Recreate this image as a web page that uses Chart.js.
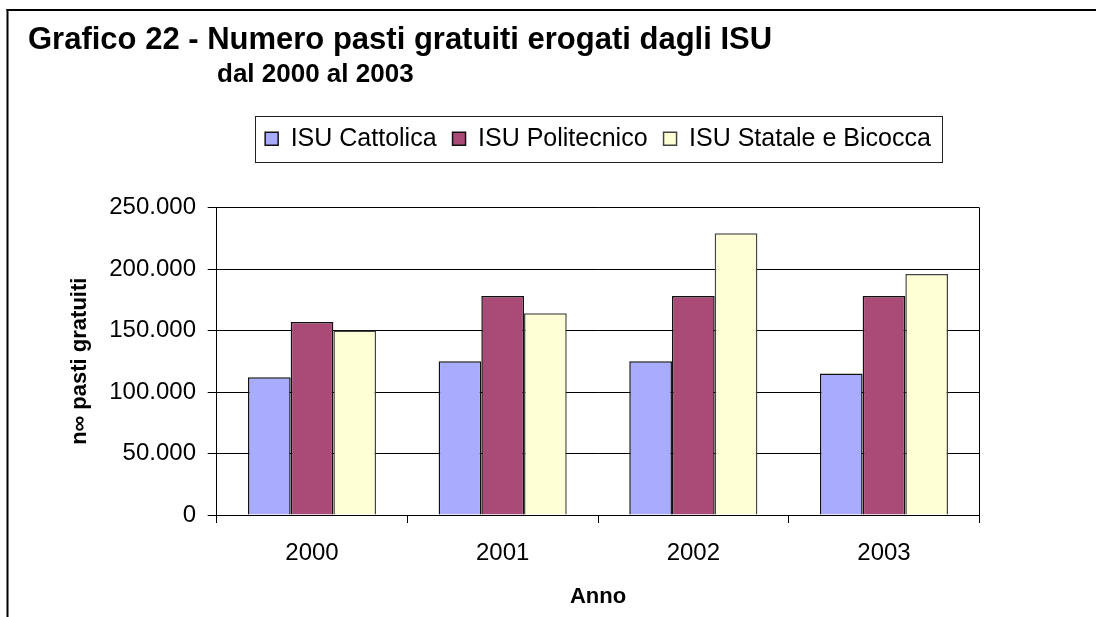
<!DOCTYPE html>
<html>
<head>
<meta charset="utf-8">
<script src="https://cdn.jsdelivr.net/npm/chart.js@4/dist/chart.umd.min.js"></script>
<style>
html,body{margin:0;padding:0;background:#fff;}
canvas{display:block;}
</style>
</head>
<body>
<canvas id="c" width="1096" height="617"></canvas>
<script>
const TITLE = 'Grafico 22 - Numero pasti gratuiti erogati dagli ISU';
const SUBTITLE = 'dal 2000 al 2003';
const years = ['2000', '2001', '2002', '2003'];
const seriesNames = ['ISU Cattolica', 'ISU Politecnico', 'ISU Statale e Bicocca'];
const cattolica = [112000, 125000, 125000, 115000];
const politecnico = [157000, 178000, 178000, 178000];
const statale = [150000, 164000, 229000, 196000];
const yTicks = [0, 50000, 100000, 150000, 200000, 250000];
const yTitle = 'n∞ pasti gratuiti';
const xTitle = 'Anno';

const fills = ['#A9ABFE', '#A94A77', '#FFFFD6'];
const borders = ['#111111', '#111111', '#444444'];
const seriesData = [cattolica, politecnico, statale];

Chart.defaults.font.family = '"Liberation Sans", Arial, sans-serif';
Chart.defaults.color = '#000';

function fmt(v) {
  return String(v).replace(/\B(?=(\d{3})+(?!\d))/g, '.');
}

const decor = {
  id: 'decor',
  beforeDraw(chart) {
    const ca = chart.chartArea;
    const lg = chart.legend;
    lg.left = ca.left;
    lg.right = ca.right;
    lg.width = ca.right - ca.left;
    chart.boxes.forEach(b => {
      if (b.options && b.options.text === SUBTITLE) { b.left = 217; }
    });
    const ctx = chart.ctx;
    ctx.save();
    ctx.fillStyle = '#000';
    ctx.fillRect(6.5, 9, chart.width, 2);
    ctx.fillRect(6.5, 9, 2, chart.height);
    ctx.restore();
  },
  afterDraw(chart) {
    const ca = chart.chartArea;
    const ctx = chart.ctx;
    ctx.save();
    ctx.strokeStyle = '#000';
    ctx.lineWidth = 1;
    ctx.beginPath();
    const rx = Math.round(ca.right) + 0.5;
    ctx.moveTo(rx, ca.top);
    ctx.lineTo(rx, ca.bottom + 8);
    ctx.stroke();
    const lg = chart.legend;
    const pad = lg.options.labels.padding;
    const fs = lg.options.labels.font.size;
    const contentW = lg.lineWidths[0] - pad;
    const x0 = (lg.left + pad + lg.right - lg.lineWidths[0]) / 2;
    const cy = lg.top + pad + fs / 2;
    ctx.strokeStyle = '#222';
    ctx.strokeRect(Math.round(x0 - 10) + 0.5, Math.round(cy - 23) + 0.5, Math.round(contentW + 21), 46);
    ctx.restore();
  }
};

new Chart(document.getElementById('c'), {
  type: 'bar',
  data: {
    labels: years,
    datasets: seriesNames.map((name, i) => ({
      label: name,
      data: seriesData[i],
      backgroundColor: fills[i],
      borderColor: borders[i],
      borderWidth: 1.5,
      categoryPercentage: 0.672,
      barPercentage: 1
    }))
  },
  options: {
    responsive: false,
    animation: false,
    devicePixelRatio: 1,
    layout: { padding: { top: 4, left: 28, right: 116.7, bottom: 0 } },
    plugins: {
      title: {
        display: true, text: TITLE, align: 'start', color: '#000',
        font: { size: 31, weight: 'bold' },
        padding: { top: 17.9, bottom: 0 }
      },
      subtitle: {
        display: true, text: SUBTITLE, align: 'start', color: '#000',
        font: { size: 26, weight: 'bold' },
        padding: { top: 0, bottom: 19.9 }
      },
      legend: {
        position: 'top', align: 'center',
        labels: { font: { size: 25 }, color: '#000', boxWidth: 13, boxHeight: 13, padding: 16 }
      },
      tooltip: { enabled: false }
    },
    scales: {
      x: {
        grid: { display: true, drawOnChartArea: false, tickLength: 8, color: '#000', tickColor: '#000' },
        border: { color: '#000', width: 1 },
        ticks: { font: { size: 24 }, color: '#000', padding: 15.6, maxRotation: 0 },
        title: { display: true, text: xTitle, color: '#000', font: { size: 22, weight: 'bold' }, padding: { top: 0, bottom: 6.8 } },
        afterFit(s) { s.height = 102; }
      },
      x2: {
        type: 'category', position: 'top', display: true,
        grid: { display: false, drawTicks: false },
        border: { display: false },
        ticks: { display: false },
        afterFit(s) { s.height = 46.3; }
      },
      y: {
        min: yTicks[0], max: yTicks[yTicks.length - 1],
        ticks: { stepSize: yTicks[1] - yTicks[0], padding: 11.7, font: { size: 24 }, color: '#000', callback: v => fmt(v) },
        grid: { color: '#000', lineWidth: 1, tickLength: 9, tickColor: '#000' },
        border: { color: '#000', width: 1 },
        title: { display: true, text: yTitle, color: '#000', font: { size: 22, weight: 'bold' }, padding: { top: 38.8, bottom: 0 } },
        afterFit(s) { s.width = 188.7; }
      }
    }
  },
  plugins: [decor]
});
</script>
</body>
</html>
